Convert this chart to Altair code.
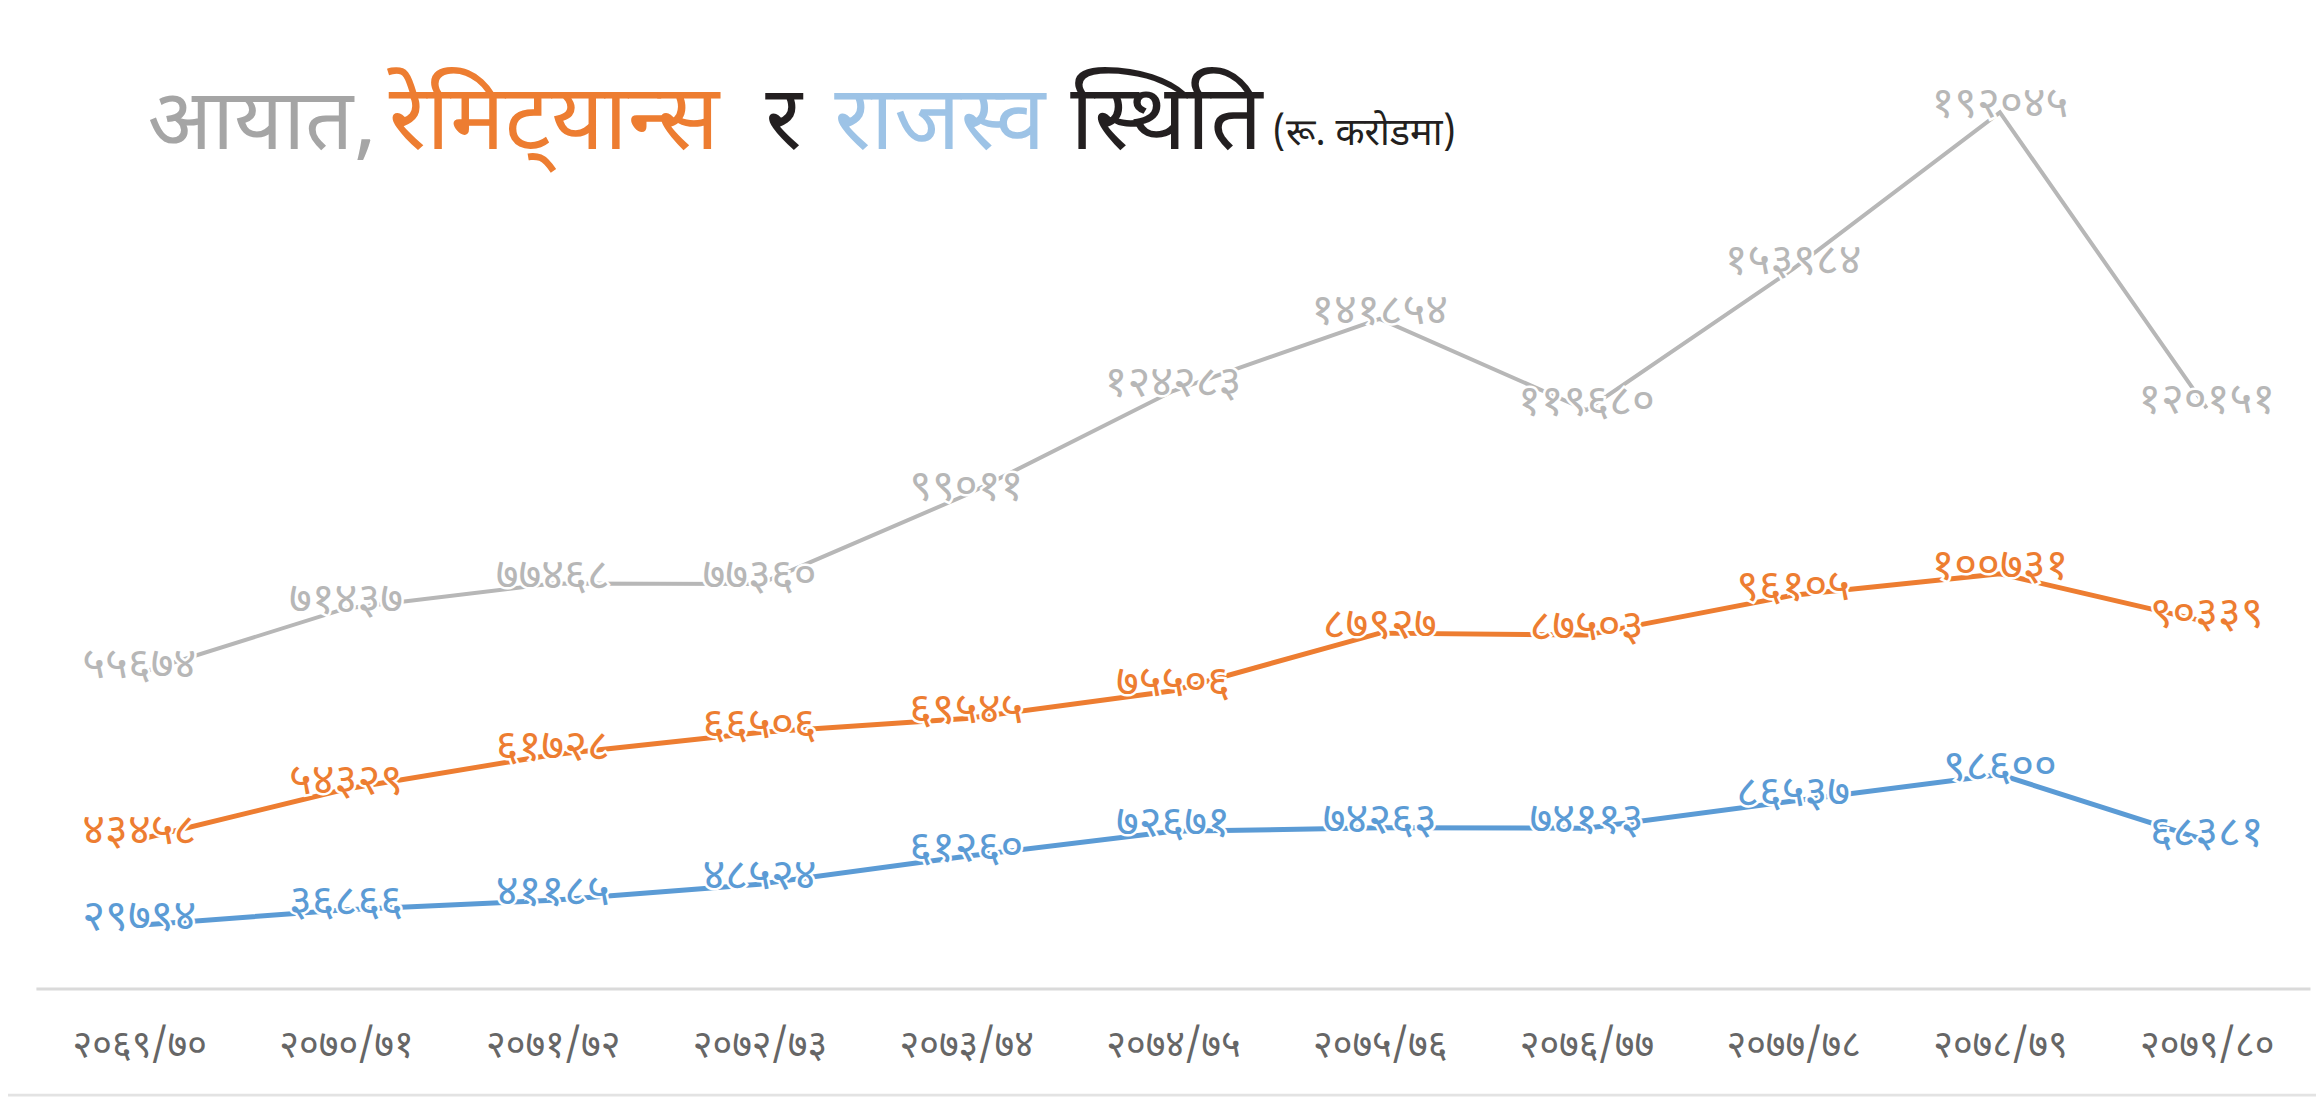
import altair as alt
import pandas as pd

years = ["२०६९/७०", "२०७०/७१", "२०७१/७२", "२०७२/७३", "२०७३/७४", "२०७४/७५",
         "२०७५/७६", "२०७६/७७", "२०७७/७८", "२०७८/७९", "२०७९/८०"]
imports = [55674, 71437, 77468, 77360, 99011, 124283, 141854, 119680, 153984, 192045, 120151]
remittance = [43458, 54329, 61728, 66506, 69545, 75506, 87927, 87503, 96105, 100731, 90339]
revenue = [29794, 36866, 41185, 48524, 61260, 72671, 74263, 74113, 86537, 98600, 68381]

DEV = str.maketrans("0123456789", "०१२३४५६७८९")
FONT = "Noto Sans Devanagari, Lohit Devanagari, Noto Sans, sans-serif"

W, H = 2282, 982

x_enc = alt.X("year:N", sort=years, title=None,
              axis=alt.Axis(labelAngle=0, labelFontSize=38, labelColor="#666666",
                            labelFont=FONT, labelPadding=38, ticks=False, grid=False,
                            domainColor="#dadada", domainWidth=3))


def series(values, color, domain, width):
    df = pd.DataFrame({"year": years, "value": values,
                       "label": [str(v).translate(DEV) for v in values]})
    base = alt.Chart(df).encode(
        x=x_enc,
        y=alt.Y("value:Q", scale=alt.Scale(domain=domain, nice=False, zero=False), axis=None),
    )
    line = base.mark_line(color=color, strokeWidth=width)
    halo = base.mark_text(fontSize=44, font=FONT, fill="white", stroke="white",
                          strokeWidth=5, dy=-8).encode(text="label:N")
    txt = base.mark_text(fontSize=44, font=FONT, color=color, dy=-8).encode(text="label:N")
    return alt.layer(line, halo, txt)


one = pd.DataFrame({"k": [0]})


def title_part(text, color, x, y, size):
    return alt.Chart(one).mark_text(align="left", baseline="alphabetic", font=FONT,
                                    fontSize=size, color=color).encode(
        x=alt.value(x), y=alt.value(y), text=alt.value(text))


titles = [
    title_part("आयात,", "#a5a5a5", 112, 140, 85),
    title_part("रेमिट\u094d\u200cयान्स", "#ed7d31", 354, 140, 92),
    title_part("र", "#231f20", 732, 140, 90),
    title_part("राजस्व", "#9dc3e6", 801, 140, 90),
    title_part("स्थिति", "#231f20", 1038, 140, 92),
    title_part("(रू. करोडमा)", "#231f20", 1241, 136, 38),
]

bottom_rule = alt.Chart(one).mark_rule(color="#e3e3e3", strokeWidth=3).encode(
    x=alt.value(-28), x2=alt.value(2290), y=alt.value(1089))

chart = alt.layer(
    series(imports, "#b7b7b7", [-20980, 216970], 4),
    series(remittance, "#ed7d31", [11340, 222240], 5),
    series(revenue, "#5b9bd5", [865, 447900], 5),
    *titles,
    bottom_rule,
).resolve_scale(y="independent").properties(
    width=W, height=H,
    autosize=alt.AutoSizeParams(type="none"),
    padding={"left": 28, "top": 0, "right": 6, "bottom": 113},
).configure_view(stroke=None)

chart.save("out.html", embed_options={"renderer": "svg", "actions": False})
